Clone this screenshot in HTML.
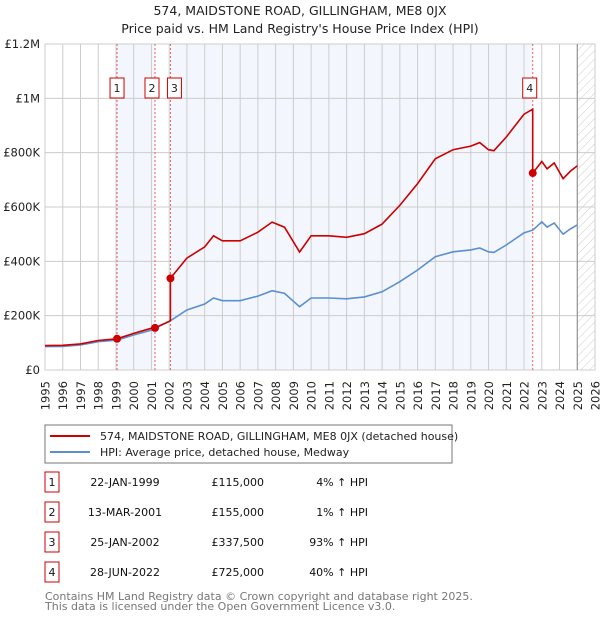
<!DOCTYPE html>
<html><head><meta charset="utf-8"><style>
body{margin:0;background:#fff;font-family:"Liberation Sans","DejaVu Sans",sans-serif;}
svg text{font-family:"DejaVu Sans","Liberation Sans",sans-serif;}
</style></head><body>
<svg id="c" width="600" height="620" xmlns="http://www.w3.org/2000/svg">
<defs><pattern id="hatch" width="6" height="6" patternUnits="userSpaceOnUse" patternTransform="rotate(45)"><line x1="0" y1="0" x2="0" y2="6" stroke="#ccc" stroke-width="1"/></pattern></defs>
<text x="300" y="15" text-anchor="middle" font-size="12.5" fill="#222">574, MAIDSTONE ROAD, GILLINGHAM, ME8 0JX</text>
<text x="300" y="33" text-anchor="middle" font-size="12.5" fill="#222">Price paid vs. HM Land Registry's House Price Index (HPI)</text>
<g id="plot"></g>
<rect x="45" y="425" width="407" height="38" fill="#fff" stroke="#777"/>
<line x1="50" y1="436" x2="90" y2="436" stroke="#cc0000" stroke-width="2"/>
<text x="100" y="440" font-size="11" fill="#222">574, MAIDSTONE ROAD, GILLINGHAM, ME8 0JX (detached house)</text>
<line x1="50" y1="452" x2="90" y2="452" stroke="#5b8fd0" stroke-width="2"/>
<text x="100" y="456" font-size="11" fill="#222">HPI: Average price, detached house, Medway</text>
<g id="tbl" font-size="11" fill="#111"></g>
<text x="45" y="600" font-size="11" fill="#777">Contains HM Land Registry data © Crown copyright and database right 2025.</text>
<text x="45" y="610" font-size="11" fill="#777">This data is licensed under the Open Government Licence v3.0.</text>
</svg>
<script>
const hpiYears=[1995,1996,1997,1998,1999.06,2000,2001,2001.2,2002,2003,2004,2004.5,2005,2006,2007,2007.8,2008.5,2009.35,2010,2011,2012,2013,2014,2015,2016,2017,2018,2019,2019.5,2020,2020.3,2021,2022,2022.5,2023,2023.3,2023.7,2024.2,2024.6,2025.0];
const hpiValues=[86,87,92,104,110,129,147,154,178,221,243,265,255,255,272,292,282,233,265,265,262,269,288,325,368,417,435,442,449,435,433,460,505,515,545,526,541,500,519,534];
const saleYears=[1999.06,2001.2,2002.07,2022.49];
const salePrices=[115,155,337.5,725];
const saleLabels=["1","2","3","4"];
const saleDates=["22-JAN-1999","13-MAR-2001","25-JAN-2002","28-JUN-2022"];
const salePriceText=["£115,000","£155,000","£337,500","£725,000"];
const saleHpiText=["4% ↑ HPI","1% ↑ HPI","93% ↑ HPI","40% ↑ HPI"];
const yTicks=[0,200,400,600,800,1000,1200];
const yTickLabels=["£0","£200K","£400K","£600K","£800K","£1M","£1.2M"];
const xTicks=[1995,1996,1997,1998,1999,2000,2001,2002,2003,2004,2005,2006,2007,2008,2009,2010,2011,2012,2013,2014,2015,2016,2017,2018,2019,2020,2021,2022,2023,2024,2025,2026];

const X0=45,X1=595,Y0=370,Y1=44;
const xs=y=>X0+(y-1995)/(2026-1995)*(X1-X0);
const ys=v=>Y0-v/1200*(Y0-Y1);
const NS="http://www.w3.org/2000/svg";
const plot=document.getElementById('plot');
function mk(t,a,p){const e=document.createElementNS(NS,t);for(const k in a)e.setAttribute(k,a[k]);(p||plot).appendChild(e);return e;}
function hpiAt(y){for(let i=0;i<hpiYears.length-1;i++){if(y>=hpiYears[i]&&y<=hpiYears[i+1]){const t=(y-hpiYears[i])/(hpiYears[i+1]-hpiYears[i]);return hpiValues[i]+t*(hpiValues[i+1]-hpiValues[i]);}}return hpiValues[hpiValues.length-1];}

let s1=mk('rect',{x:xs(saleYears[0]),y:Y1,width:xs(saleYears[1])-xs(saleYears[0]),height:Y0-Y1,fill:'#eef3fc',opacity:0.7});


let s2=mk('rect',{x:xs(saleYears[2]),y:Y1,width:xs(saleYears[3])-xs(saleYears[2]),height:Y0-Y1,fill:'#eef3fc',opacity:0.7});


let hz=mk('rect',{x:xs(2025.0),y:Y1,width:X1-xs(2025.0),height:Y0-Y1,fill:'url(#hatch)'});


xTicks.forEach(t=>{const l=mk('line',{x1:xs(t),x2:xs(t),y1:Y1,y2:Y0,stroke:'#ccc','stroke-width':1});


const px=xs(t)+4.5;
const tx=mk('text',{x:px,y:381,'text-anchor':'end','font-size':11.5,fill:'#222',transform:'rotate(-90 '+px+' 381)'});tx.textContent=t;

});
yTicks.forEach((t,i)=>{const l=mk('line',{x1:X0,x2:X1,y1:ys(t),y2:ys(t),stroke:'#ccc','stroke-width':1});


const tx=mk('text',{x:40,y:ys(t)+4,'text-anchor':'end','font-size':11.5,fill:'#222'});tx.textContent=yTickLabels[i];

});
const fr=mk('rect',{x:X0,y:Y1,width:X1-X0,height:Y0-Y1,fill:'none',stroke:'#ccc'});


const el=mk('line',{x1:xs(2025.0),x2:xs(2025.0),y1:Y1,y2:Y0,stroke:'#888'});


saleYears.forEach((y,i)=>{const l=mk('line',{x1:xs(y),x2:xs(y),y1:Y1,y2:Y0,stroke:'#f06060','stroke-dasharray':'2,2','stroke-width':1});

});
let d=hpiYears.map((y,i)=>(i?'L':'M')+xs(y).toFixed(1)+','+ys(hpiValues[i]).toFixed(1)).join('');
const hl=mk('path',{d:d,fill:'none',stroke:'#5b8fd0','stroke-width':1.6});


const ratios=saleYears.map((y,i)=>salePrices[i]/hpiAt(y));
let pts=[];
hpiYears.forEach((y,i)=>{let k=0;for(let j=0;j<saleYears.length;j++)if(y>=saleYears[j])k=j;pts.push([y,hpiValues[i]*ratios[k]]);});
saleYears.forEach((y,j)=>{if(j>0)pts.push([y-0.001,hpiAt(y)*ratios[j-1]]);pts.push([y,salePrices[j]]);});
pts.sort((a,b)=>a[0]-b[0]);
d=pts.map((p,i)=>(i?'L':'M')+xs(p[0]).toFixed(1)+','+ys(p[1]).toFixed(1)).join('');
const rl=mk('path',{d:d,fill:'none',stroke:'#cc0000','stroke-width':1.6});


saleYears.forEach((y,i)=>{const c=mk('circle',{cx:xs(y),cy:ys(salePrices[i]),r:4,fill:'#cc0000'});


let bx=xs(y)-7+(i==1?-3:i==2?4:0);
if(i==3)bx=xs(y)-10;
const r=mk('rect',{x:bx,y:78,width:14,height:20,fill:'#fff',stroke:'#cc0000'});


const t=mk('text',{x:bx+7,y:92,'text-anchor':'middle','font-size':11,fill:'#222'});t.textContent=saleLabels[i];

});
const tbl=document.getElementById('tbl');
saleLabels.forEach((s,i)=>{const yy=483+i*30;
const r=mk('rect',{x:45,y:yy-11,width:14,height:20,fill:'#fff',stroke:'#cc0000'},tbl);


const a=mk('text',{x:52,y:yy+3,'text-anchor':'middle'},tbl);a.textContent=s;


const b=mk('text',{x:125,y:yy+3,'text-anchor':'middle'},tbl);b.textContent=saleDates[i];


const c=mk('text',{x:264,y:yy+3,'text-anchor':'end'},tbl);c.textContent=salePriceText[i];


const e=mk('text',{x:368,y:yy+3,'text-anchor':'end'},tbl);e.textContent=saleHpiText[i];

});
</script>
</body></html>
